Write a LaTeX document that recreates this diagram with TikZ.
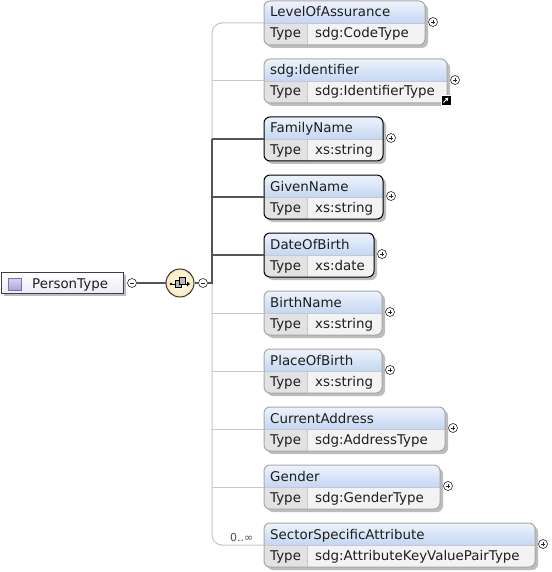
\documentclass[tikz,border=0pt]{standalone}
\usepackage{fontspec}
\setmainfont{DejaVu Sans}
\usetikzlibrary{arrows.meta}
\definecolor{hdtop}{HTML}{EEF3FC}
\definecolor{hdbot}{HTML}{C4D7F2}
\definecolor{typec}{HTML}{E2E2E2}
\definecolor{valc}{HTML}{F3F3F3}
\definecolor{optb}{HTML}{A8A8A8}
\definecolor{shadowc}{HTML}{BDBDBD}
\definecolor{spinec}{HTML}{C6C6C6}
\definecolor{thickc}{HTML}{555555}
\definecolor{sepc}{HTML}{C8C8C8}
\definecolor{txtc}{HTML}{1E1E1E}
\definecolor{pttop}{HTML}{FFFFFF}
\definecolor{ptbot}{HTML}{ECE9F5}
\definecolor{icontop}{HTML}{DCD4F2}
\definecolor{iconbot}{HTML}{B0A2DA}
\definecolor{iconb}{HTML}{7E6EB4}
\tikzset{
  lbl/.style={inner sep=0pt, anchor=base west, text=txtc, font=\fontsize{13.4}{16}\selectfont},
  smalllbl/.style={inner sep=0pt, anchor=base west, text=txtc!80, font=\fontsize{11}{13}\selectfont},
  optline/.style={draw=spinec, line width=1pt},
  manline/.style={draw=thickc, line width=2pt},
  optborder/.style={draw=optb, line width=1pt},
  manborder/.style={draw=black, line width=1pt},
  plusc/.style={circle, draw=black!85, fill=white, minimum size=9pt, inner sep=0pt, line width=0.6pt,
    path picture={\draw[line width=0.6pt] ([xshift=-2.4pt]path picture bounding box.center) -- ([xshift=2.4pt]path picture bounding box.center);
                  \draw[line width=0.6pt] ([yshift=-2.4pt]path picture bounding box.center) -- ([yshift=2.4pt]path picture bounding box.center);}},
  minusc/.style={circle, draw=black!85, fill=white, minimum size=9pt, inner sep=0pt, line width=0.6pt,
    path picture={\draw[line width=0.6pt] ([xshift=-2.4pt]path picture bounding box.center) -- ([xshift=2.4pt]path picture bounding box.center);}},
}
% #1 id, #2 top, #3 width, #4 name, #5 type, #6 border style
\newcommand\xelem[6]{%
  \fill[shadowc, rounded corners=6pt] (267,{#2+3}) rectangle ({264+#3+3},{#2+47});
  \begin{scope}
    \clip[rounded corners=6pt] (264,#2) rectangle ({264+#3},{#2+44});
    \shade[top color=hdtop, bottom color=hdbot] (264,#2) rectangle ({264+#3},{#2+22});
    \fill[typec] (264,{#2+22}) rectangle (307,{#2+44});
    \fill[valc] (307,{#2+22}) rectangle ({264+#3},{#2+44});
    \draw[sepc] (264,{#2+22}) -- ({264+#3},{#2+22});
    \draw[sepc] (307,{#2+22}) -- (307,{#2+44});
  \end{scope}
  \draw[#6, rounded corners=6pt] (264,#2) rectangle ({264+#3},{#2+44});
  \node[lbl] (#1) at (270,{#2+16}) {#4};
  \node[lbl] (#1t) at (270,{#2+37}) {Type};
  \node[lbl] (#1v) at (315,{#2+37}) {#5};
  \coordinate (#1in) at (264,{#2+22});
  \node[plusc] (#1p) at ({264+#3+8},{#2+21}) {};
}
\begin{document}
\begin{tikzpicture}[x=1pt,y=-1pt]
\useasboundingbox (0,0) rectangle (551,572);
\fill[white] (0,0) rectangle (551,572);

% root element
\fill[shadowc] (4,275) rectangle (126,296);
\node[draw=black!75, line width=1pt, top color=pttop, bottom color=ptbot,
      minimum width=122pt, minimum height=21pt, inner sep=0pt, anchor=north west] (ptbox) at (1,272) {};
\draw[draw=iconb, top color=icontop, bottom color=iconbot] (8,278) rectangle (21,290);
\node[lbl] (pt) at (32,288) {PersonType};
\node[minusc] (ptm) at (132,283) {};

% compositor (sequence)
\node[circle, draw=black!80, line width=1pt, inner color=yellow!8, outer color=yellow!30!orange!25,
      minimum size=28pt, inner sep=0pt] (comp) at (180,283) {};
\draw[black, line width=0.9pt] (171,284) -- (188,284);
\fill[black] (171,284) circle (1.4pt);
\draw[black, fill=gray!55, line width=0.8pt] (175,280) rectangle (181,287);
\draw[black, fill=gray!55, line width=0.8pt] (179,277) rectangle (185,284);
\fill[black] (190,284) -- (187,281.5) -- (187,286.5) -- cycle;
\node[minusc] (cm) at (203,283) {};
\draw[manline] (ptm) -- (comp);
\draw[manline] (comp) -- (cm);

% child elements
\xelem{loa}{1}{161}{LevelOfAssurance}{sdg:CodeType}{optborder}
\xelem{sid}{59}{183}{sdg:Identifier}{sdg:IdentifierType}{optborder}
\xelem{fam}{117}{119}{FamilyName}{xs:string}{manborder}
\xelem{giv}{175}{119}{GivenName}{xs:string}{manborder}
\xelem{dob}{233}{110}{DateOfBirth}{xs:date}{manborder}
\xelem{bir}{291}{118}{BirthName}{xs:string}{optborder}
\xelem{pob}{349}{118}{PlaceOfBirth}{xs:string}{optborder}
\xelem{cad}{407}{181}{CurrentAddress}{sdg:AddressType}{optborder}
\xelem{gen}{465}{176}{Gender}{sdg:GenderType}{optborder}
\xelem{ssa}{523}{271}{SectorSpecificAttribute}{sdg:AttributeKeyValuePairType}{optborder}

% link icon on sdg:Identifier
\node[fill=black, draw=white, line width=0.8pt, minimum size=10pt, inner sep=0pt] (sidlink) at (446,100) {};
\draw[white, line width=1pt, -{Triangle[length=3.2pt,width=3.6pt]}] (sidlink.center) ++(-2.6,2.6) -- ++(5,-5);

% spine
\coordinate (spB) at (212,300);
\draw[optline, rounded corners=10pt] (loain) -| (spB) |- (ssain);
\foreach \e in {sid,bir,pob,cad,gen} {\draw[optline] (\e in -| spB) -- (\e in);}
\draw[manline] (cm.east) -| (famin -| spB);
\foreach \e in {fam,giv,dob} {\draw[manline] (\e in -| spB) -- (\e in);}
\node[smalllbl] (occ) at (230,541) {0..∞};
\end{tikzpicture}
\end{document}
